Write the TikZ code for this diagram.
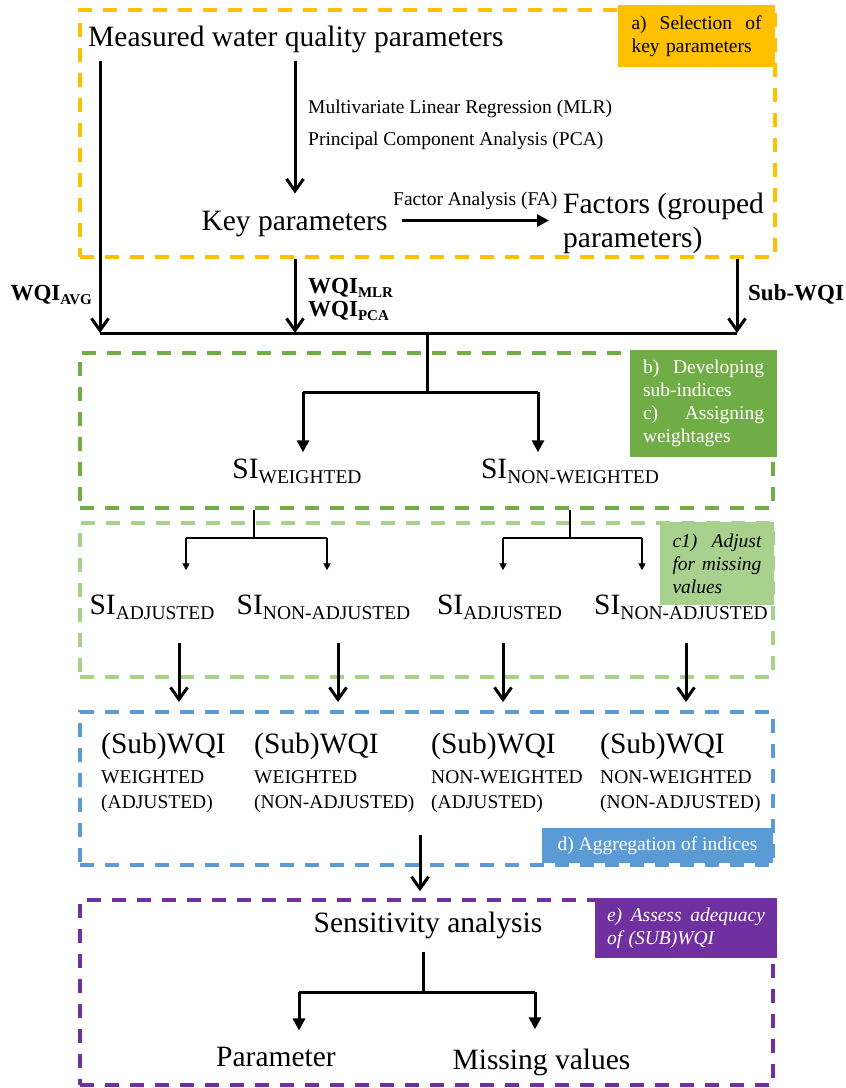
\documentclass[tikz,border=0pt]{standalone}
\usepackage{fontspec}
\setmainfont{Liberation Serif}
\usetikzlibrary{arrows.meta,positioning}

\definecolor{stageorange}{HTML}{FFC000}
\definecolor{stagegreen}{HTML}{70AD47}
\definecolor{stagelight}{HTML}{A9D18E}
\definecolor{stageblue}{HTML}{5B9BD5}
\definecolor{stagepurple}{HTML}{7030A0}

\newcommand{\bigtxt}{\fontsize{29.5}{34}\selectfont}
\newcommand{\smalltxt}{\fontsize{19.5}{25}\selectfont}
\newcommand{\boldtxt}{\fontsize{23}{23}\selectfont\bfseries}
\newcommand{\tagtxt}{\fontsize{19.5}{23}\selectfont}
\newcommand{\subcap}[1]{\raisebox{-5pt}{\fontsize{19.5}{20}\selectfont #1}}
\newcommand{\subbold}[1]{\raisebox{-4pt}{\fontsize{15}{15}\selectfont\bfseries #1}}

\begin{document}
\begin{tikzpicture}[
    x=1pt, y=-1pt,
    stage/.style={
        draw=#1,
        dash pattern=on 14pt off 11pt,
        line width=3.5pt,
        inner sep=0pt,
        minimum width=693pt,
    },
    tag/.style={
        fill=#1,
        inner sep=0pt,
        font=\tagtxt,
    },
    txt/.style={inner sep=0pt},
    mainline/.style={line width=3pt},
    thinline/.style={line width=2pt},
    barbarrow/.style={
        -{Straight Barb[length=12pt,width=17pt]},
        line width=3pt,
    },
    triarrow/.style={
        -{Triangle[length=12pt,width=12pt]},
        line width=3pt,
    },
    smallarrow/.style={
        -{Triangle[length=7pt,width=7pt]},
        line width=2pt,
    },
]
\useasboundingbox (0,0) rectangle (846,1088);

\node[stage=stageorange,minimum width=695pt,minimum height=247pt] (boxa) at (427.5,133.5) {};
\node[stage=stagegreen,minimum height=155pt] (boxb) at (426.5,430.5) {};
\node[stage=stagelight,minimum height=154pt] (boxc) at (426.5,600) {};
\node[stage=stageblue,minimum height=153pt] (boxd) at (426.5,788.5) {};
\node[stage=stagepurple,minimum height=185pt] (boxe) at (426.5,992.5) {};

\node[tag=stageorange,minimum width=157pt,minimum height=62pt,text width=130pt,align=left] (taga) at (696.5,36) {%
    a)\hfill Selection\hfill of\\key parameters};
\node[tag=stagegreen,text=white,minimum width=147pt,minimum height=107pt,text width=121pt,align=left] (tagb) at (703.5,403.5) {%
    b)\hfill Developing\\sub-indices\\c)\hfill Assigning\\weightages};
\node[tag=stagelight,font=\tagtxt\itshape,minimum width=114pt,minimum height=83pt,text width=89pt,align=left] (tagc) at (717,563.5) {%
    c1)\hfill Adjust\\for\hfill missing\\values};
\node[tag=stageblue,text=white,minimum width=231pt,minimum height=35pt] (tagd) at (657.5,845.5) {%
    d) Aggregation of indices};
\node[tag=stagepurple,text=white,font=\tagtxt\itshape,minimum width=182pt,minimum height=60pt,text width=158pt,align=left] (tage) at (686,928) {%
    e)\hfill Assess\hfill adequacy\\of (SUB)WQI};

\node[txt,font=\bigtxt,anchor=base west] (meas) at (88,46) {Measured water quality parameters};
\node[txt,font=\smalltxt,anchor=base west,align=left] (methods) at (308,145) {%
    Multivariate Linear Regression (MLR)\\[7pt]Principal Component Analysis (PCA)};
\node[txt,font=\bigtxt,anchor=base] (key) at (294.5,230) {Key parameters};
\node[txt,font=\bigtxt,anchor=base west,align=left] (factors) at (563,247) {Factors (grouped\\parameters)};

\node[txt,font=\boldtxt,anchor=base east] (wqiavg) at (92,300) {WQI\subbold{AVG}};
\node[txt,font=\boldtxt,anchor=base west,align=left] (wqimlr) at (308,316) {WQI\subbold{MLR}\\WQI\subbold{PCA}};
\node[txt,font=\boldtxt,anchor=base west] (subwqi) at (748,300) {Sub-WQI};

\node[txt,font=\bigtxt,anchor=base] (siw) at (297,478) {SI\subcap{WEIGHTED}};
\node[txt,font=\bigtxt,anchor=base] (sinw) at (570,478) {SI\subcap{NON-WEIGHTED}};

\node[txt,font=\bigtxt,anchor=base] (sia1) at (152,614) {SI\subcap{ADJUSTED}};
\node[txt,font=\bigtxt,anchor=base] (sina1) at (323.5,614) {SI\subcap{NON-ADJUSTED}};
\node[txt,font=\bigtxt,anchor=base] (sia2) at (499.5,614) {SI\subcap{ADJUSTED}};
\node[txt,font=\bigtxt,anchor=base] (sina2) at (681,614) {SI\subcap{NON-ADJUSTED}};

\node[txt,font=\bigtxt,anchor=base west] (wqi1) at (101,753) {(Sub)WQI};
\node[txt,font=\bigtxt,anchor=base west] (wqi2) at (254,753) {(Sub)WQI};
\node[txt,font=\bigtxt,anchor=base west] (wqi3) at (431,753) {(Sub)WQI};
\node[txt,font=\bigtxt,anchor=base west] (wqi4) at (600,753) {(Sub)WQI};
\node[txt,font=\smalltxt,anchor=base west,align=left] (wqi1t) at (101,808) {WEIGHTED\\(ADJUSTED)};
\node[txt,font=\smalltxt,anchor=base west,align=left] (wqi2t) at (254,808) {WEIGHTED\\(NON-ADJUSTED)};
\node[txt,font=\smalltxt,anchor=base west,align=left] (wqi3t) at (431,808) {NON-WEIGHTED\\(ADJUSTED)};
\node[txt,font=\smalltxt,anchor=base west,align=left] (wqi4t) at (600,808) {NON-WEIGHTED\\(NON-ADJUSTED)};

\node[txt,font=\bigtxt,anchor=base] (sens) at (428,932) {Sensitivity analysis};
\node[txt,font=\bigtxt,anchor=base] (param) at (276,1066) {Parameter};
\node[txt,font=\bigtxt,anchor=base] (miss) at (541.5,1069) {Missing values};

\coordinate (jl) at (100,333);
\coordinate (jm) at (295,333);
\coordinate (jr) at (737,333);
\coordinate (jc) at (427,333);
\coordinate (bl) at (303,392);
\coordinate (br) at (538,392);
\coordinate (wsplit) at (254,538);
\coordinate (wl) at (186,538);
\coordinate (wr) at (327,538);
\coordinate (nsplit) at (570,538);
\coordinate (nl) at (503,538);
\coordinate (nr) at (642,538);
\coordinate (d1) at (179,702);
\coordinate (d2) at (338,702);
\coordinate (d3) at (503,702);
\coordinate (d4) at (686,702);
\coordinate (agg) at (420,835);
\coordinate (esplit) at (423,992);
\coordinate (el) at (299,992);
\coordinate (er) at (535,992);
\path (key.east) ++(0,-3) coordinate (keyout);

\draw[barbarrow,shorten <=8pt] (meas.south -| jl) -- (jl);
\draw[barbarrow,shorten <=8pt,shorten >=17pt] (meas.south -| jm) -- (jm |- key.north);
\draw[triarrow,shorten <=14pt,shorten >=14pt] (keyout) -- node[txt,font=\smalltxt,above=9pt] (fa) {Factor Analysis (FA)} (keyout -| factors.west);
\draw[barbarrow] (boxa.south -| jm) -- (jm);
\draw[barbarrow] (boxa.south -| jr) -- (jr);
\draw[mainline] (jl) -- (jr);

\draw[mainline] (jc) -- (jc |- bl);
\draw[mainline] (bl) -- (br);
\draw[triarrow,shorten >=6pt] (bl) -- (bl |- siw.north);
\draw[triarrow,shorten >=6pt] (br) -- (br |- sinw.north);

\draw[thinline] (boxb.south -| wsplit) -- (wsplit);
\draw[thinline] (wl) -- (wr);
\draw[smallarrow,shorten >=24pt] (wl) -- (wl |- sia1.north);
\draw[smallarrow,shorten >=24pt] (wr) -- (wr |- sina1.north);
\draw[thinline] (boxb.south -| nsplit) -- (nsplit);
\draw[thinline] (nl) -- (nr);
\draw[smallarrow,shorten >=24pt] (nl) -- (nl |- sia2.north);
\draw[smallarrow,shorten >=24pt] (nr) -- (nr |- sina2.north);

\draw[barbarrow,shorten <=24pt] (d1 |- sia1.south) -- (d1);
\draw[barbarrow,shorten <=24pt] (d2 |- sina1.south) -- (d2);
\draw[barbarrow,shorten <=24pt] (d3 |- sia2.south) -- (d3);
\draw[barbarrow,shorten <=24pt] (d4 |- sina2.south) -- (d4);

\draw[barbarrow,shorten >=7pt] (agg) -- (agg |- boxe.north);

\draw[mainline,shorten <=13pt] (sens.south -| esplit) -- (esplit);
\draw[mainline] (el) -- (er);
\draw[triarrow,shorten >=16pt] (el) -- (el |- param.north);
\draw[triarrow,shorten >=19pt] (er) -- (er |- miss.north);
\end{tikzpicture}
\end{document}
